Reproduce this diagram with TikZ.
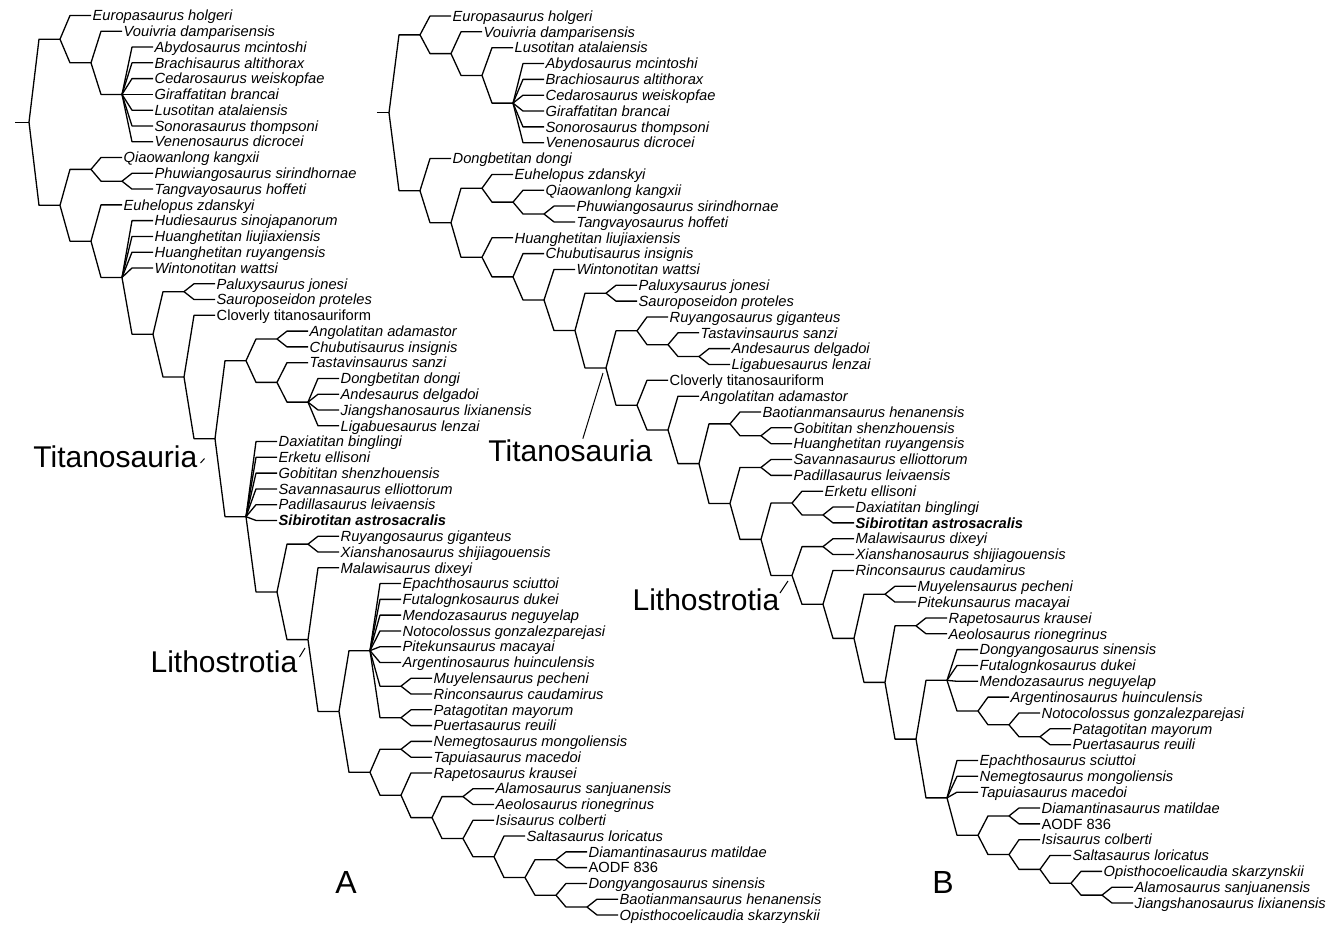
\documentclass[tikz,border=0pt]{standalone}
\usepackage{fontspec}
\setmainfont{Liberation Sans}
\usetikzlibrary{calc}

\newcommand\taxsize{\fontsize{14.7}{17}\selectfont}
\newcommand\cladesize{\fontsize{30}{34}\selectfont}

\tikzset{
  branch/.style={to path={-- ([xshift=10pt]\tikztostart |- \tikztotarget) -- (\tikztotarget)}},
  taxon/.style={anchor=west, inner sep=1pt, text height=10.5pt, text depth=0pt, font=\taxsize\itshape},
  taxonup/.style={taxon, font=\taxsize\upshape},
  taxonbf/.style={taxon, font=\taxsize\bfseries\itshape},
  clade/.style={anchor=base east, inner sep=0pt, font=\cladesize},
  panel/.style={inner sep=0pt, font=\fontsize{32}{36}\selectfont},
}

\begin{document}
\begin{tikzpicture}[x=1pt, y=-1pt, line width=1.3pt, line join=round]
\useasboundingbox (0,0) rectangle (1339,924);

% tree A: x = depth, y = row
\begin{scope}[shift={(29,15.5)}, x=31pt, y=-15.78pt]
\coordinate (aR) at (0,6.76);
\coordinate (aN1) at (1,1.5);
\coordinate (aN2) at (1,12.03);
\coordinate (aN3) at (2,3);
\coordinate (aN4) at (3,5);
\coordinate (aQ) at (2,9.75);
\coordinate (aPT) at (3,10.5);
\coordinate (aE) at (2,14.30);
\coordinate (aH) at (3,16.60);
\coordinate (aP) at (4,20.20);
\coordinate (aPS) at (5,17.5);
\coordinate (aCL) at (5,22.91);
\coordinate (aT) at (6,26.82);
\coordinate (aU) at (7,21.875);
\coordinate (aAC) at (8,20.5);
\coordinate (aTS) at (8,23.25);
\coordinate (aDG) at (9,24.5);
\coordinate (aD) at (7,31.76);
\coordinate (aL) at (8,36.53);
\coordinate (aRX) at (9,33.5);
\coordinate (aM) at (9,39.55);
\coordinate (aN) at (10,44.10);
\coordinate (aEP) at (11,40.25);
\coordinate (aMR) at (12,42.5);
\coordinate (aPP) at (12,44.5);
\coordinate (aNT) at (11,47.96);
\coordinate (aNM) at (12,46.5);
\coordinate (aRA) at (12,49.41);
\coordinate (aAA) at (13,50.83);
\coordinate (aAl) at (14,49.5);
\coordinate (aIS) at (14,52.16);
\coordinate (aSL) at (15,53.31);
\coordinate (aDD) at (16,54.63);
\coordinate (aDA) at (17,53.5);
\coordinate (aDB) at (17,55.75);
\coordinate (aBO) at (18,56.5);
\coordinate (aStub) at (-0.45,6.76);

\draw (aStub) -- (aR);
\foreach \pa/\ch in {aR/aN1, aR/aN2, aN1/aN3, aN3/aN4, aN2/aQ, aQ/aPT, aN2/aE, aE/aH,
    aH/aP, aP/aPS, aP/aCL, aCL/aT, aT/aU, aU/aAC, aU/aTS, aTS/aDG, aT/aD, aD/aL,
    aL/aRX, aL/aM, aM/aN, aN/aEP, aEP/aMR, aEP/aPP, aN/aNT, aNT/aNM, aNT/aRA,
    aRA/aAA, aAA/aAl, aAA/aIS, aIS/aSL, aSL/aDD, aDD/aDA, aDD/aDB, aDB/aBO}
  \draw (\pa) to[branch] (\ch);

\foreach \pa/\rw/\tx in {aN1/0/Europasaurus holgeri, aN3/1/Vouivria damparisensis,
    aN4/2/Abydosaurus mcintoshi, aN4/3/Brachisaurus altithorax, aN4/4/Cedarosaurus weiskopfae,
    aN4/5/Giraffatitan brancai, aN4/6/Lusotitan atalaiensis, aN4/7/Sonorasaurus thompsoni,
    aN4/8/Venenosaurus dicrocei, aQ/9/Qiaowanlong kangxii, aPT/10/Phuwiangosaurus sirindhornae,
    aPT/11/Tangvayosaurus hoffeti, aE/12/Euhelopus zdanskyi, aH/13/Hudiesaurus sinojapanorum,
    aH/14/Huanghetitan liujiaxiensis, aH/15/Huanghetitan ruyangensis, aH/16/Wintonotitan wattsi,
    aPS/17/Paluxysaurus jonesi, aPS/18/Sauroposeidon proteles,
    aAC/20/Angolatitan adamastor, aAC/21/Chubutisaurus insignis, aTS/22/Tastavinsaurus sanzi,
    aDG/23/Dongbetitan dongi, aDG/24/Andesaurus delgadoi, aDG/25/Jiangshanosaurus lixianensis,
    aDG/26/Ligabuesaurus lenzai, aD/27/Daxiatitan binglingi, aD/28/Erketu ellisoni,
    aD/29/Gobititan shenzhouensis, aD/30/Savannasaurus elliottorum, aD/31/Padillasaurus leivaensis,
    aRX/33/Ruyangosaurus giganteus, aRX/34/Xianshanosaurus shijiagouensis, aM/35/Malawisaurus dixeyi,
    aEP/36/Epachthosaurus sciuttoi, aEP/37/Futalognkosaurus dukei, aEP/38/Mendozasaurus neguyelap,
    aEP/39/Notocolossus gonzalezparejasi, aEP/40/Pitekunsaurus macayai,
    aEP/41/Argentinosaurus huinculensis, aMR/42/Muyelensaurus pecheni, aMR/43/Rinconsaurus caudamirus,
    aPP/44/Patagotitan mayorum, aPP/45/Puertasaurus reuili, aNM/46/Nemegtosaurus mongoliensis,
    aNM/47/Tapuiasaurus macedoi, aRA/48/Rapetosaurus krausei, aAl/49/Alamosaurus sanjuanensis,
    aAl/50/Aeolosaurus rionegrinus, aIS/51/Isisaurus colberti, aSL/52/Saltasaurus loricatus,
    aDA/53/Diamantinasaurus matildae, aDB/55/Dongyangosaurus sinensis,
    aBO/56/Baotianmansaurus henanensis, aBO/57/Opisthocoelicaudia skarzynskii} {
  \node[taxon] (la\rw) at ([xshift=31pt]\pa |- 0,\rw) {\tx};
  \draw (\pa) to[branch] (la\rw);
}
\node[taxonup] (la19) at ([xshift=31pt]aCL |- 0,19) {Cloverly titanosauriform};
\node[taxonbf] (la32) at ([xshift=31pt]aD |- 0,32) {Sibirotitan astrosacralis};
\node[taxonup] (la54) at ([xshift=31pt]aDA |- 0,54) {AODF 836};
\draw (aCL) to[branch] (la19);
\draw (aD) to[branch] (la32);
\draw (aDA) to[branch] (la54);
\end{scope}

% tree B
\begin{scope}[shift={(389,16)}, x=31pt, y=-15.84pt]
\coordinate (bR) at (0,6.11);
\coordinate (bN1) at (1,1.19);
\coordinate (bN2) at (2,2.375);
\coordinate (bN3) at (3,3.75);
\coordinate (bN4) at (4,5.5);
\coordinate (bN5) at (1,11.03);
\coordinate (bN6) at (2,13.05);
\coordinate (bN7) at (3,10.875);
\coordinate (bN8) at (4,11.75);
\coordinate (bN9) at (5,12.5);
\coordinate (bN10) at (3,15.23);
\coordinate (bN11) at (4,16.47);
\coordinate (bN12) at (5,17.93);
\coordinate (bN13) at (6,19.86);
\coordinate (bPS) at (7,17.5);
\coordinate (bN14) at (7,22.22);
\coordinate (bRT) at (8,19.875);
\coordinate (bTA) at (9,20.75);
\coordinate (bAL) at (10,21.5);
\coordinate (bCA) at (8,24.57);
\coordinate (bAN) at (9,26.13);
\coordinate (bBG) at (10,28.26);
\coordinate (bBH) at (11,25.75);
\coordinate (bGH) at (12,26.5);
\coordinate (bSP) at (11,30.77);
\coordinate (bSV) at (12,28.5);
\coordinate (bEL) at (12,33.04);
\coordinate (bED) at (13,30.75);
\coordinate (bDS) at (14,31.5);
\coordinate (bLB) at (13,35.32);
\coordinate (bMX) at (14,33.5);
\coordinate (bRI) at (14,37.14);
\coordinate (bMU) at (15,39.29);
\coordinate (bMP) at (16,36.5);
\coordinate (bRP) at (16,42.07);
\coordinate (bRA) at (17,38.5);
\coordinate (bBIG) at (17,45.65);
\coordinate (bDF) at (18,41.94);
\coordinate (bAR) at (19,43.875);
\coordinate (bNP) at (20,44.75);
\coordinate (bPU) at (21,45.5);
\coordinate (bET) at (18,49.36);
\coordinate (bDI) at (19,51.72);
\coordinate (bDA) at (20,50.5);
\coordinate (bIS) at (20,52.94);
\coordinate (bSA) at (21,53.875);
\coordinate (bOP) at (22,54.75);
\coordinate (bAJ) at (23,55.5);
\coordinate (bStub) at (-0.39,6.11);

\draw (bStub) -- (bR);
\foreach \pa/\ch in {bR/bN1, bN1/bN2, bN2/bN3, bN3/bN4, bR/bN5, bN5/bN6, bN6/bN7, bN7/bN8,
    bN8/bN9, bN6/bN10, bN10/bN11, bN11/bN12, bN12/bN13, bN13/bPS, bN13/bN14, bN14/bRT,
    bRT/bTA, bTA/bAL, bN14/bCA, bCA/bAN, bAN/bBG, bBG/bBH, bBH/bGH, bBG/bSP, bSP/bSV,
    bSP/bEL, bEL/bED, bED/bDS, bEL/bLB, bLB/bMX, bLB/bRI, bRI/bMU, bMU/bMP, bMU/bRP,
    bRP/bRA, bRP/bBIG, bBIG/bDF, bDF/bAR, bAR/bNP, bNP/bPU, bBIG/bET, bET/bDI, bDI/bDA,
    bDI/bIS, bIS/bSA, bSA/bOP, bOP/bAJ}
  \draw (\pa) to[branch] (\ch);

\foreach \pa/\rw/\tx in {bN1/0/Europasaurus holgeri, bN2/1/Vouivria damparisensis,
    bN3/2/Lusotitan atalaiensis, bN4/3/Abydosaurus mcintoshi, bN4/4/Brachiosaurus altithorax,
    bN4/5/Cedarosaurus weiskopfae, bN4/6/Giraffatitan brancai, bN4/7/Sonorosaurus thompsoni,
    bN4/8/Venenosaurus dicrocei, bN5/9/Dongbetitan dongi, bN7/10/Euhelopus zdanskyi,
    bN8/11/Qiaowanlong kangxii, bN9/12/Phuwiangosaurus sirindhornae, bN9/13/Tangvayosaurus hoffeti,
    bN10/14/Huanghetitan liujiaxiensis, bN11/15/Chubutisaurus insignis, bN12/16/Wintonotitan wattsi,
    bPS/17/Paluxysaurus jonesi, bPS/18/Sauroposeidon proteles, bRT/19/Ruyangosaurus giganteus,
    bTA/20/Tastavinsaurus sanzi, bAL/21/Andesaurus delgadoi, bAL/22/Ligabuesaurus lenzai,
    bAN/24/Angolatitan adamastor, bBH/25/Baotianmansaurus henanensis,
    bGH/26/Gobititan shenzhouensis, bGH/27/Huanghetitan ruyangensis,
    bSV/28/Savannasaurus elliottorum, bSV/29/Padillasaurus leivaensis, bED/30/Erketu ellisoni,
    bDS/31/Daxiatitan binglingi, bMX/33/Malawisaurus dixeyi, bMX/34/Xianshanosaurus shijiagouensis,
    bRI/35/Rinconsaurus caudamirus, bMP/36/Muyelensaurus pecheni, bMP/37/Pitekunsaurus macayai,
    bRA/38/Rapetosaurus krausei, bRA/39/Aeolosaurus rionegrinus, bDF/40/Dongyangosaurus sinensis,
    bDF/41/Futalognkosaurus dukei, bDF/42/Mendozasaurus neguyelap,
    bAR/43/Argentinosaurus huinculensis, bNP/44/Notocolossus gonzalezparejasi,
    bPU/45/Patagotitan mayorum, bPU/46/Puertasaurus reuili, bET/47/Epachthosaurus sciuttoi,
    bET/48/Nemegtosaurus mongoliensis, bET/49/Tapuiasaurus macedoi,
    bDA/50/Diamantinasaurus matildae, bIS/52/Isisaurus colberti, bSA/53/Saltasaurus loricatus,
    bOP/54/Opisthocoelicaudia skarzynskii, bAJ/55/Alamosaurus sanjuanensis,
    bAJ/56/Jiangshanosaurus lixianensis} {
  \node[taxon] (lb\rw) at ([xshift=31pt]\pa |- 0,\rw) {\tx};
  \draw (\pa) to[branch] (lb\rw);
}
\node[taxonup] (lb23) at ([xshift=31pt]bCA |- 0,23) {Cloverly titanosauriform};
\node[taxonbf] (lb32) at ([xshift=31pt]bDS |- 0,32) {Sibirotitan astrosacralis};
\node[taxonup] (lb51) at ([xshift=31pt]bDA |- 0,51) {AODF 836};
\draw (bCA) to[branch] (lb23);
\draw (bDS) to[branch] (lb32);
\draw (bDA) to[branch] (lb51);
\end{scope}

% clade names
\node[clade] (titA) at (198,467) {Titanosauria};
\coordinate (titAtip) at (204.5,458.5);
\draw[line width=1pt] ([xshift=2.5pt,yshift=4pt]titA.base east) -- (titAtip);

\node[clade] (titB) at (653,461) {Titanosauria};
\coordinate (titBtip) at (603,373);
\draw[line width=1pt] ([xshift=12.5pt]titB.north) -- (titBtip);

\node[clade] (lithA) at (298,672) {Lithostrotia};
\coordinate (lithAtip) at (305,648);
\draw[line width=1pt] ([xshift=1.5pt,yshift=15pt]lithA.base east) -- (lithAtip);

\node[clade] (lithB) at (780,610) {Lithostrotia};
\coordinate (lithBtip) at (788,581);
\draw[line width=1pt] ([yshift=17pt]lithB.base east) -- (lithBtip);

\node[panel] (panA) at (346,882) {A};
\node[panel] (panB) at (943,882) {B};
\end{tikzpicture}
\end{document}
